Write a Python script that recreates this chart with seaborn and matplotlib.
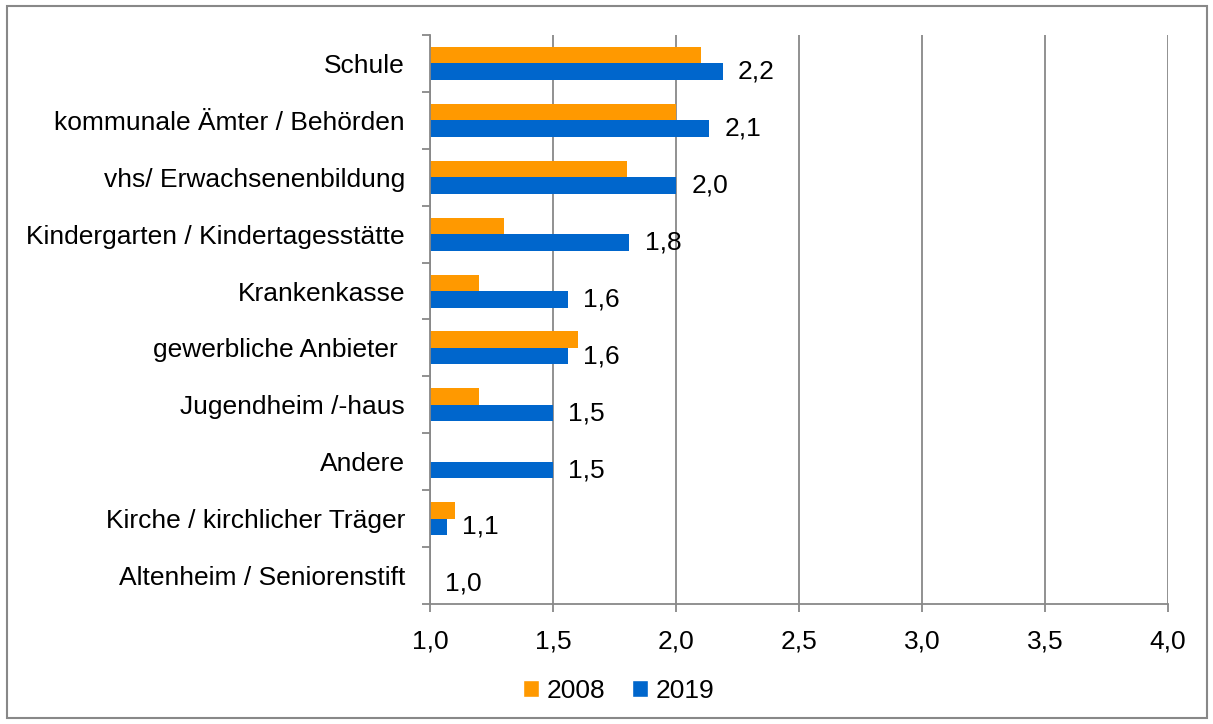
import numpy as np
import pandas as pd
import matplotlib
matplotlib.use("Agg")
import matplotlib.pyplot as plt
import seaborn as sns
from matplotlib.patches import Rectangle, Patch

# Data
categories = ['Schule', 'kommunale Ämter / Behörden', 'vhs/ Erwachsenenbildung',
              'Kindergarten / Kindertagesstätte', 'Krankenkasse', 'gewerbliche Anbieter ',
              'Jugendheim /-haus', 'Andere', 'Kirche / kirchlicher Träger',
              'Altenheim / Seniorenstift']
values_2008 = [2.10, 2.00, 1.80, 1.30, 1.20, 1.60, 1.20, 1.00, 1.10, 1.00]
values_2019 = [2.19, 2.135, 2.00, 1.81, 1.56, 1.56, 1.50, 1.50, 1.07, 1.00]
years = ['2008', '2019']
x_ticks = [1.0, 1.5, 2.0, 2.5, 3.0, 3.5, 4.0]
x_tick_labels = ['1,0', '1,5', '2,0', '2,5', '3,0', '3,5', '4,0']
baseline = 1.0

colors = {'2008': '#FF9900', '2019': '#0066CC'}
grey = '#888888'
fs = 19

# long table for seaborn; bars start at the axis origin 1,0
df = pd.DataFrame({
    'Kategorie': categories * 2,
    'Jahr': [years[0]] * len(categories) + [years[1]] * len(categories),
    'Wert': values_2008 + values_2019,
})
df['Laenge'] = df['Wert'] - baseline

sns.set_style('white')
plt.rcParams['font.family'] = ['Liberation Sans', 'DejaVu Sans']
plt.rcParams['text.color'] = 'black'
plt.rcParams['xtick.labelcolor'] = 'black'
plt.rcParams['ytick.labelcolor'] = 'black'

fig = plt.figure(figsize=(12.13, 7.24), dpi=100)
ax = fig.add_axes([430 / 1213, 1 - 604 / 724, 738 / 1213, 569 / 724])

sns.barplot(data=df, y='Kategorie', x='Laenge', hue='Jahr', order=categories,
            hue_order=years, palette=colors, orient='h', width=0.58,
            left=baseline, ax=ax, errorbar=None, linewidth=0, saturation=1,
            legend=False)

# value labels for 2019
labels_2019 = [f'{v:.1f}'.replace('.', ',') for v in values_2019]
ax.bar_label(ax.containers[1], labels=labels_2019, padding=11, fontsize=fs, color='black')

ax.set_xlim(x_ticks[0], x_ticks[-1])
ax.set_ylim(len(categories) - 0.5, -0.5)
ax.set_xticks(x_ticks)
ax.set_xticklabels(x_tick_labels)
ax.set_xlabel('')
ax.set_ylabel('')
ax.grid(axis='x', color=grey, linewidth=1.3)
ax.grid(axis='y', visible=False)
ax.set_axisbelow(True)

ax.set_yticks(np.arange(-0.5, len(categories), 1), minor=True)
ax.tick_params(axis='y', which='major', length=0, pad=18, labelsize=fs, labelcolor='black')
ax.tick_params(axis='y', which='minor', left=True, length=6, color=grey, width=1.3)
ax.tick_params(axis='x', which='major', bottom=True, length=6, color=grey, width=1.3,
               pad=12, labelsize=fs, labelcolor='black')

for s in ['top', 'right']:
    ax.spines[s].set_visible(False)
for s in ['left', 'bottom']:
    ax.spines[s].set_color(grey)
    ax.spines[s].set_linewidth(1.3)

handles = [Patch(facecolor=colors[y], label=y) for y in years]
ax.legend(handles=handles, ncol=2, loc='center', bbox_to_anchor=(619 / 1213, 1 - 691 / 724),
          bbox_transform=fig.transFigure, frameon=False, fontsize=fs, labelcolor='black',
          handlelength=0.6, handleheight=0.6, handletextpad=0.3, columnspacing=1.0)

# outer chart frame
fig.patches.append(Rectangle((7 / 1213, 6 / 724), 1200 / 1213, 712 / 724,
                             transform=fig.transFigure, fill=False,
                             edgecolor=grey, linewidth=1.5))

fig.savefig('out.png', dpi=100)
